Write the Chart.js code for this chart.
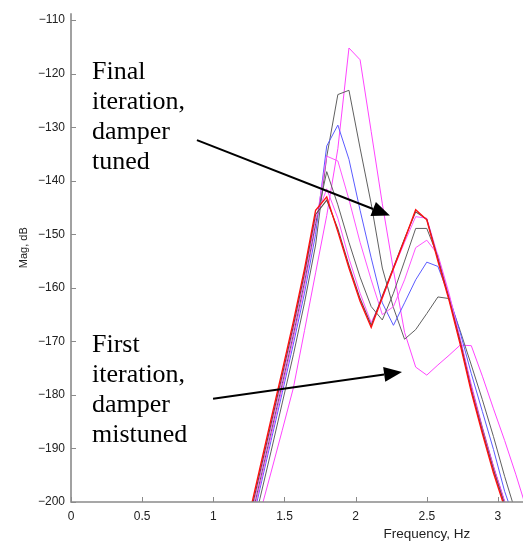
<!DOCTYPE html>
<html>
<head>
<meta charset="utf-8">
<script src="https://cdn.jsdelivr.net/npm/chart.js@4/dist/chart.umd.min.js"></script>
<style>
  html, body { margin: 0; padding: 0; background: #ffffff; }
  #wrap { width: 524px; height: 542px; position: relative; }
</style>
</head>
<body>
<div id="wrap"><canvas id="c" width="524" height="542"></canvas></div>
<script>
// ---- data ----
const freqHz = [1.171875, 1.25, 1.328125, 1.40625, 1.484375, 1.5625, 1.640625, 1.71875,
  1.796875, 1.875, 1.953125, 2.03125, 2.109375, 2.1875, 2.265625, 2.34375, 2.421875,
  2.5, 2.578125, 2.65625, 2.734375, 2.8125, 2.890625, 2.96875, 3.046875, 3.125, 3.203125];

// first iteration (damper mistuned) ... final iteration (damper tuned)
const magIter1 = [-218, -210.0, -202.1, -194.4, -186.6, -178.7, -168.0, -157.2, -146.5, -134.0, -115.2, -117.4, -130.8, -144.3, -156.7, -168.3, -174.8, -176.3, -174.4, -172.6, -170.7, -170.8, -176.5, -182.6, -188.5, -194.8, -201.5];
const magIter2 = [-216, -207.5, -199.3, -190.5, -181.5, -172.5, -162.8, -152.0, -135.5, -123.9, -123.1, -133.9, -144.3, -156.3, -163.7, -169.6, -167.8, -164.8, -161.7, -162.0, -168.0, -174.4, -180.9, -187.8, -195.2, -202.0, -209.0];
const magIter3 = [-215.5, -206.5, -197.5, -188.5, -179.6, -170.5, -161.0, -150.0, -133.5, -129.6, -136.0, -145.5, -154.4, -162.8, -167.0, -162.8, -158.5, -155.2, -156.0, -161.5, -168.3, -176.0, -183.1, -190.2, -198.0, -204.0, -210.0];
const magIter4 = [-215.2, -205.9, -196.8, -187.7, -178.7, -169.5, -159.8, -148.5, -135.4, -136.3, -143.5, -151.5, -158.5, -165.0, -163.5, -158.5, -152.5, -151.1, -153.8, -161.0, -169.5, -178.0, -186.0, -193.3, -199.8, -206.0, -212.0];
const magIter5 = [-214.4, -205.1, -196.0, -186.9, -177.9, -168.7, -158.9, -148.0, -138.3, -144.5, -151.5, -158.0, -163.5, -166.0, -161.0, -155.0, -148.9, -148.9, -154.2, -161.8, -169.8, -178.5, -186.2, -193.5, -200.0, -206.0, -212.0];
const magIter6 = [-213.6, -204.3, -195.2, -186.1, -177.1, -167.9, -158.1, -147.1, -141.5, -147.0, -154.5, -161.0, -166.5, -162.0, -156.5, -151.5, -146.7, -147.0, -154.0, -161.5, -169.5, -178.5, -186.5, -193.5, -200.0, -206.0, -212.0];
const magIter7 = [-212.8, -203.5, -194.4, -185.3, -176.3, -167.1, -157.3, -146.3, -143.6, -149.0, -155.8, -162.0, -167.0, -161.5, -156.2, -150.8, -145.8, -147.2, -154.6, -162.0, -170.0, -179.0, -186.8, -194.0, -200.5, -206.5, -212.5];
const magIter8 = [-212, -202.7, -193.6, -184.5, -175.5, -166.3, -156.5, -145.5, -143.0, -149.5, -156.3, -162.5, -167.4, -161.8, -156.4, -151.0, -145.4, -147.3, -155.0, -162.3, -170.5, -179.4, -187.2, -194.6, -201.0, -207.0, -213.0];

const xTickValues = [0, 0.5, 1, 1.5, 2, 2.5, 3];
const yTickValues = [-200, -190, -180, -170, -160, -150, -140, -130, -120, -110];
const xTitle = 'Frequency, Hz';
const yTitle = 'Mag, dB';

// annotation texts, anchored in data coordinates
const noteFinal = ['Final', 'iteration,', 'damper', 'tuned'];
const noteFirst = ['First', 'iteration,', 'damper', 'mistuned'];
const noteFinalAt = { x: 0.1475, y: -120.9 };
const noteFirstAt = { x: 0.1475, y: -172.0 };
const arrowFinal = { from: { x: 0.885, y: -132.4 }, to: { x: 2.241, y: -146.5 } };
const arrowFirst = { from: { x: 0.998, y: -180.7 }, to: { x: 2.326, y: -175.7 } };

// ---- build ----
const series = [
  { data: magIter8, color: '#ff1010', width: 1.4 },
  { data: magIter7, color: '#5a4a4a', width: 1.1 },
  { data: magIter6, color: '#ff55ff', width: 1.0 },
  { data: magIter5, color: '#606060', width: 1.0 },
  { data: magIter4, color: '#ff55ff', width: 1.0 },
  { data: magIter3, color: '#5b5bff', width: 1.0 },
  { data: magIter2, color: '#606060', width: 1.0 },
  { data: magIter1, color: '#ff44ff', width: 1.0 }
];

const datasets = series.map((s, i) => ({
  label: 'iter' + (8 - i),
  data: freqHz.map((f, k) => ({ x: f, y: s.data[k] })),
  borderColor: s.color,
  borderWidth: s.width,
  pointRadius: 0,
  tension: 0,
  fill: false
}));

const AXIS_COLOR = '#8a8a8a';

const decorPlugin = {
  id: 'decor',
  afterDraw(chart) {
    const ctx = chart.ctx;
    const a = chart.chartArea;
    const xs = chart.scales.x, ys = chart.scales.y;
    ctx.save();
    // axes lines (left & bottom)
    ctx.strokeStyle = AXIS_COLOR;
    ctx.lineWidth = 1.6;
    ctx.beginPath();
    ctx.moveTo(a.left, a.top);
    ctx.lineTo(a.left, a.bottom);
    ctx.lineTo(a.right, a.bottom);
    ctx.stroke();
    // inward tick marks
    ctx.lineWidth = 1;
    ctx.beginPath();
    xTickValues.forEach(v => {
      const px = Math.round(xs.getPixelForValue(v)) + 0.5;
      ctx.moveTo(px, a.bottom);
      ctx.lineTo(px, a.bottom - 5);
    });
    yTickValues.forEach(v => {
      const py = Math.round(ys.getPixelForValue(v)) + 0.5;
      ctx.moveTo(a.left, py);
      ctx.lineTo(a.left + 5, py);
    });
    ctx.stroke();

    // axis titles
    ctx.fillStyle = '#222';
    ctx.font = '13.5px "Liberation Sans", Arial, sans-serif';
    ctx.textAlign = 'center';
    ctx.textBaseline = 'middle';
    ctx.fillText(xTitle, xs.getPixelForValue(2.5), 534);
    ctx.save();
    ctx.translate(24, ys.getPixelForValue(-152.5));
    ctx.rotate(-Math.PI / 2);
    ctx.font = '11px "Liberation Sans", Arial, sans-serif';
    ctx.fillText(yTitle, 0, 0);
    ctx.restore();

    // annotation texts
    ctx.fillStyle = '#000';
    ctx.font = '26px "Liberation Serif", "Times New Roman", serif';
    ctx.textAlign = 'left';
    ctx.textBaseline = 'alphabetic';
    const drawNote = (lines, at) => {
      const x0 = xs.getPixelForValue(at.x);
      const y0 = ys.getPixelForValue(at.y);
      lines.forEach((t, i) => ctx.fillText(t, x0, y0 + i * 30));
    };
    drawNote(noteFinal, noteFinalAt);
    drawNote(noteFirst, noteFirstAt);

    // arrows
    const drawArrow = (ar) => {
      const x1 = xs.getPixelForValue(ar.from.x), y1 = ys.getPixelForValue(ar.from.y);
      const x2 = xs.getPixelForValue(ar.to.x), y2 = ys.getPixelForValue(ar.to.y);
      const ang = Math.atan2(y2 - y1, x2 - x1);
      const hl = 18, hw = 7.5;
      const bx = x2 - hl * Math.cos(ang), by = y2 - hl * Math.sin(ang);
      ctx.strokeStyle = '#000';
      ctx.lineWidth = 2;
      ctx.beginPath();
      ctx.moveTo(x1, y1);
      ctx.lineTo(bx, by);
      ctx.stroke();
      ctx.fillStyle = '#000';
      ctx.beginPath();
      ctx.moveTo(x2, y2);
      ctx.lineTo(bx + hw * Math.sin(ang), by - hw * Math.cos(ang));
      ctx.lineTo(bx - hw * Math.sin(ang), by + hw * Math.cos(ang));
      ctx.closePath();
      ctx.fill();
    };
    drawArrow(arrowFinal);
    drawArrow(arrowFirst);
    ctx.restore();
  }
};

const keepTicks = (values) => (scale) => {
  scale.ticks = values.map(v => ({ value: v }));
};

new Chart(document.getElementById('c'), {
  type: 'line',
  data: { datasets },
  options: {
    responsive: false,
    animation: false,
    devicePixelRatio: 1,
    layout: { padding: { top: 8, right: 1, bottom: 0, left: 0 } },
    plugins: { legend: { display: false }, tooltip: { enabled: false } },
    scales: {
      x: {
        type: 'linear',
        min: 0,
        max: 3.176,
        afterBuildTicks: keepTicks(xTickValues),
        afterFit: (s) => { s.height = 40; },
        grid: { display: false, drawTicks: false },
        border: { display: false },
        ticks: {
          padding: 7,
          color: '#222',
          maxRotation: 0,
          autoSkip: false,
          font: { family: '"Liberation Sans", Arial, sans-serif', size: 12 },
          callback: (v) => String(v)
        }
      },
      y: {
        type: 'linear',
        min: -200,
        max: -108.7,
        afterBuildTicks: keepTicks(yTickValues),
        afterFit: (s) => { s.width = 71; },
        grid: { display: false, drawTicks: false },
        border: { display: false },
        ticks: {
          padding: 6,
          color: '#222',
          autoSkip: false,
          font: { family: '"Liberation Sans", Arial, sans-serif', size: 12 },
          callback: (v) => '\u2212' + String(Math.abs(v))
        }
      }
    }
  },
  plugins: [decorPlugin]
});
</script>
</body>
</html>
